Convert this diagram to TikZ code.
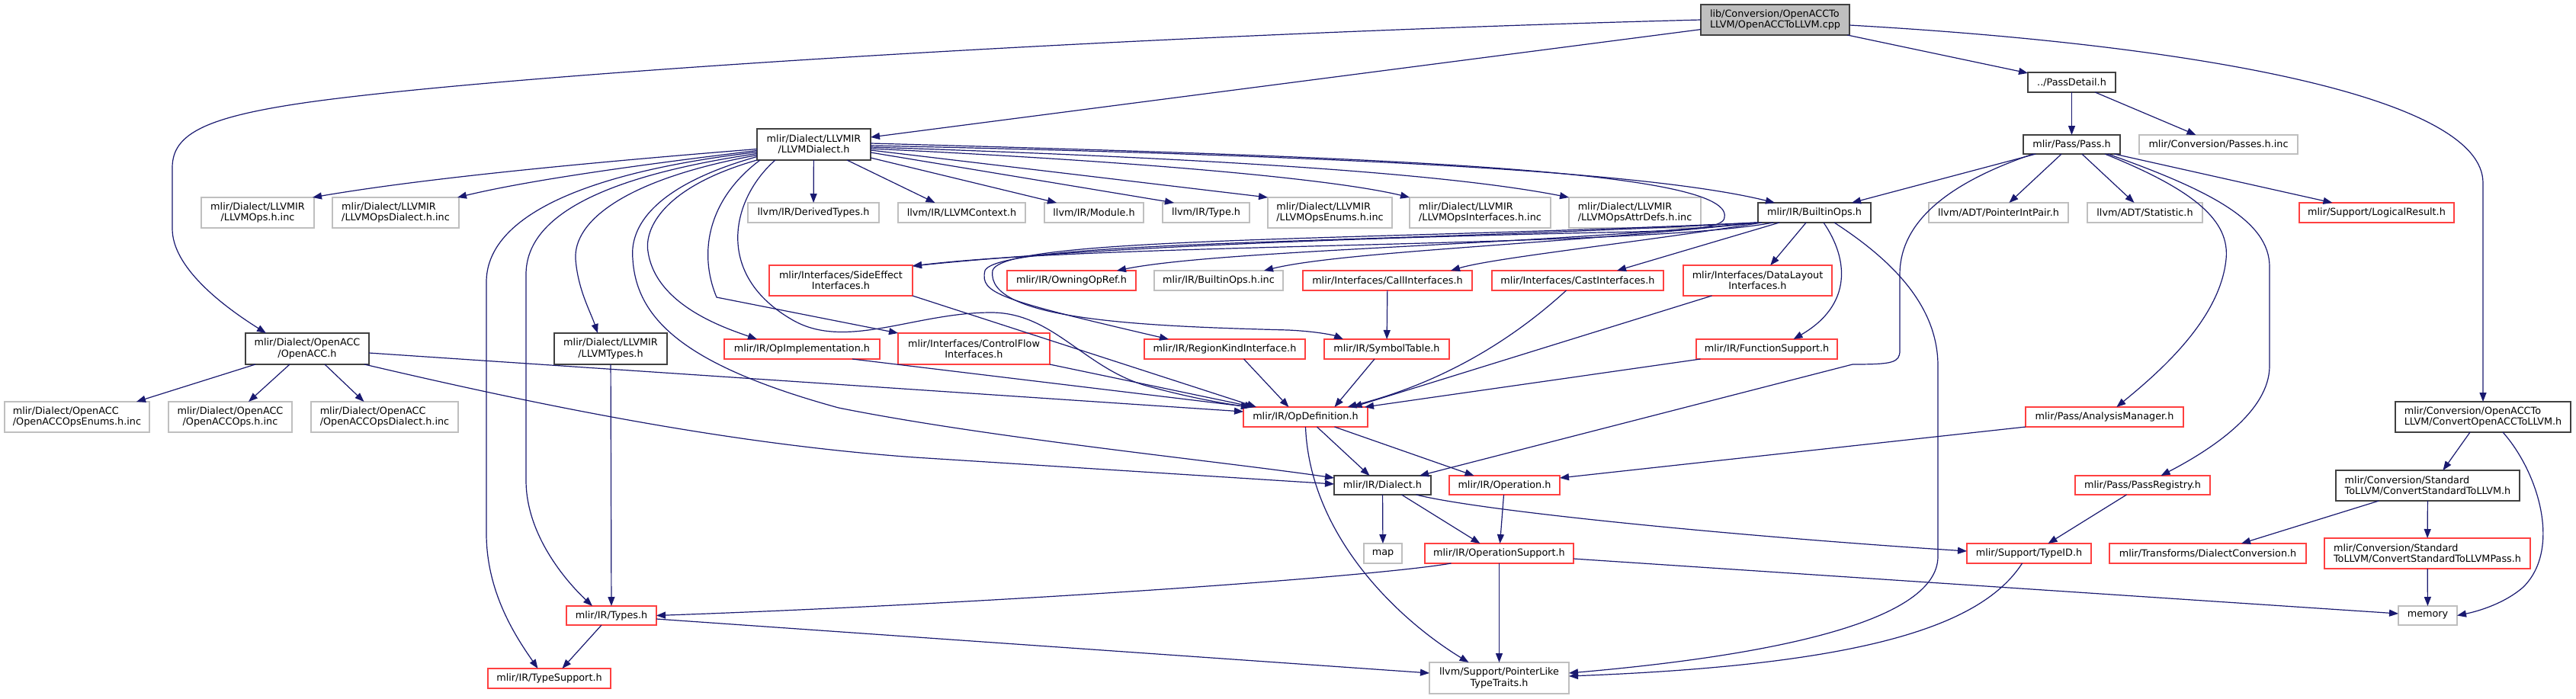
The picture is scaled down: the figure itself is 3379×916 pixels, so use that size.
\documentclass[tikz,border=0pt]{standalone}
\usepackage{fontspec}
\setmainfont{DejaVu Sans}
\usetikzlibrary{arrows.meta}
\definecolor{edgec}{HTML}{191970}
\definecolor{redc}{HTML}{FF4040}
\definecolor{grayc}{HTML}{BFBFBF}
\definecolor{blkc}{HTML}{404040}
\definecolor{rootfill}{HTML}{BFBFBF}
\newcommand\twoline[2]{\setbox0=\hbox{#1}\setbox2=\hbox{#2}\dimen0=\wd0 \ifdim\wd2>\dimen0 \dimen0=\wd2\fi\vbox{\hbox to\dimen0{\box0\hfil}\hbox to\dimen0{\hfil\box2\hfil}}}
\newcommand\nd[6]{\node[#1, minimum width=#4pt, minimum height=#5pt] (#2) at (#3) {#6};}
\begin{document}
\begin{tikzpicture}[x=1pt,y=-1pt,
  nbase/.style={draw, line width=1.4pt, inner sep=0pt, outer sep=0pt, font=\fontsize{12.8}{14.3}\selectfont},
  blk/.style={nbase, draw=blkc, fill=white},
  rootn/.style={nbase, draw=blkc, fill=rootfill},
  redn/.style={nbase, draw=redc, fill=white},
  gry/.style={nbase, draw=grayc, fill=white},
  edge/.style={draw=edgec, line width=1.2pt, -{Triangle[length=12pt,width=9pt]}}]
\fill[white] (0,0) rectangle (3379,916);
\useasboundingbox (0,0) rectangle (3379,916);
% nodes
\nd{rootn}{root}{2328.5,26}{195}{40}{\twoline{lib/Conversion/OpenACCTo}{LLVM/OpenACCToLLVM.cpp}}
\nd{blk}{llvmd}{1067.5,189.5}{149}{41}{\twoline{mlir/Dialect/LLVMIR}{/LLVMDialect.h}}
\nd{blk}{passdetail}{2717.5,108}{115}{26}{../PassDetail.h}
\nd{blk}{passh}{2717.5,189.5}{127}{25}{mlir/Pass/Pass.h}
\nd{gry}{passesinc}{2910,189.5}{208}{25}{mlir/Conversion/Passes.h.inc}
\nd{gry}{llvmopsinc}{338,279}{148}{40}{\twoline{mlir/Dialect/LLVMIR}{/LLVMOps.h.inc}}
\nd{gry}{llvmopsdialect}{519,279}{166}{40}{\twoline{mlir/Dialect/LLVMIR}{/LLVMOpsDialect.h.inc}}
\nd{gry}{derived}{1067,279}{172}{26}{llvm/IR/DerivedTypes.h}
\nd{gry}{context}{1261.5,279}{167}{26}{llvm/IR/LLVMContext.h}
\nd{gry}{module}{1435,279}{130}{26}{llvm/IR/Module.h}
\nd{gry}{type}{1582,279}{114}{26}{llvm/IR/Type.h}
\nd{gry}{enums}{1744.5,279}{163}{40}{\twoline{mlir/Dialect/LLVMIR}{/LLVMOpsEnums.h.inc}}
\nd{gry}{ifaces}{1941.5,279}{185}{40}{\twoline{mlir/Dialect/LLVMIR}{/LLVMOpsInterfaces.h.inc}}
\nd{gry}{attrdefs}{2144.5,279}{173}{40}{\twoline{mlir/Dialect/LLVMIR}{/LLVMOpsAttrDefs.h.inc}}
\nd{blk}{builtinops}{2380,279}{148}{26}{mlir/IR/BuiltinOps.h}
\nd{gry}{pointerint}{2621.5,279}{183}{26}{llvm/ADT/PointerIntPair.h}
\nd{gry}{statistic}{2813.5,279}{151}{26}{llvm/ADT/Statistic.h}
\nd{redn}{logical}{3117.5,279}{203}{26}{mlir/Support/LogicalResult.h}
\nd{redn}{sideeffect}{1103,368}{188}{40}{\twoline{mlir/Interfaces/SideEffect}{Interfaces.h}}
\nd{redn}{owning}{1405.5,368}{169}{26}{mlir/IR/OwningOpRef.h}
\nd{gry}{builtininc}{1598.5,368}{169}{26}{mlir/IR/BuiltinOps.h.inc}
\nd{redn}{call}{1820,368}{222}{26}{mlir/Interfaces/CallInterfaces.h}
\nd{redn}{cast}{2069.5,368}{225}{26}{mlir/Interfaces/CastInterfaces.h}
\nd{redn}{datalayout}{2305.5,368}{195}{40}{\twoline{mlir/Interfaces/DataLayout}{Interfaces.h}}
\nd{blk}{openacc}{403,457.5}{162}{41}{\twoline{mlir/Dialect/OpenACC}{/OpenACC.h}}
\nd{blk}{llvmtypes}{801,457.5}{148}{41}{\twoline{mlir/Dialect/LLVMIR}{/LLVMTypes.h}}
\nd{redn}{opimpl}{1052,458}{204}{26}{mlir/IR/OpImplementation.h}
\nd{redn}{controlflow}{1277.5,457.5}{199}{41}{\twoline{mlir/Interfaces/ControlFlow}{Interfaces.h}}
\nd{redn}{regionkind}{1606.5,458}{211}{26}{mlir/IR/RegionKindInterface.h}
\nd{redn}{symtab}{1819,458}{164}{26}{mlir/IR/SymbolTable.h}
\nd{redn}{funcsupport}{2317.5,458}{185}{26}{mlir/IR/FunctionSupport.h}
\nd{blk}{convacc}{3257,547}{230}{40}{\twoline{mlir/Conversion/OpenACCTo}{LLVM/ConvertOpenACCToLLVM.h}}
\nd{gry}{accenums}{101,547}{190}{40}{\twoline{mlir/Dialect/OpenACC}{/OpenACCOpsEnums.h.inc}}
\nd{gry}{accops}{302,547}{162}{40}{\twoline{mlir/Dialect/OpenACC}{/OpenACCOps.h.inc}}
\nd{gry}{accdialect}{504.5,547}{193}{40}{\twoline{mlir/Dialect/OpenACC}{/OpenACCOpsDialect.h.inc}}
\nd{redn}{opdef}{1712.5,547}{163}{26}{mlir/IR/OpDefinition.h}
\nd{redn}{analysis}{2760.5,547}{207}{26}{mlir/Pass/AnalysisManager.h}
\nd{blk}{dialect}{1813.5,636.5}{127}{25}{mlir/IR/Dialect.h}
\nd{redn}{operation}{1973.5,636.5}{145}{25}{mlir/IR/Operation.h}
\nd{redn}{passreg}{2810.5,636.5}{177}{25}{mlir/Pass/PassRegistry.h}
\nd{blk}{convstd}{3184.5,637}{241}{40}{\twoline{mlir/Conversion/Standard}{ToLLVM/ConvertStandardToLLVM.h}}
\nd{gry}{map}{1814,726}{50}{26}{map}
\nd{redn}{opsupport}{1966.5,726}{195}{26}{mlir/IR/OperationSupport.h}
\nd{redn}{typeid}{2661.5,726}{163}{26}{mlir/Support/TypeID.h}
\nd{redn}{dialectconv}{2896,726}{258}{26}{mlir/Transforms/DialectConversion.h}
\nd{redn}{convstdpass}{3184,726}{270}{40}{\twoline{mlir/Conversion/Standard}{ToLLVM/ConvertStandardToLLVMPass.h}}
\nd{redn}{types}{802,807.5}{118}{25}{mlir/IR/Types.h}
\nd{gry}{memory}{3184.5,807.5}{77}{25}{memory}
\nd{redn}{typesupport}{720.5,890}{161}{26}{mlir/IR/TypeSupport.h}
\nd{gry}{ptrlike}{1966.5,889.5}{183}{41}{\twoline{llvm/Support/PointerLike}{TypeTraits.h}}
% edges from root
\draw[edge] (root.west) .. controls (1500,45) and (700,95) .. (420,132) .. controls (270,152) and (226,175) .. (226,220) -- (226,300) .. controls (226,350) and (290,400) .. ([xshift=27pt]openacc.north west);
\draw[edge] (root) -- (llvmd);
\draw[edge] (root) -- (passdetail);
\draw[edge] ([yshift=-7pt]root.east) .. controls (2900,60) and (3257,130) .. (3257,240) -- (convacc);
% pass detail / pass
\draw[edge] (passdetail) -- (passh);
\draw[edge] (passdetail) -- (passesinc);
\draw[edge] (passh) -- (builtinops);
\draw[edge] (passh) -- (pointerint);
\draw[edge] (passh) -- (statistic);
\draw[edge] (passh) -- (logical);
\draw[edge] ([xshift=13pt]passh.south west) .. controls (2540,245) and (2492,300) .. (2492,360) -- (2492,460) .. controls (2492,476) and (2482,478) .. (2430,478) -- (dialect);
\draw[edge] ([xshift=-20pt]passh.south east) .. controls (2880,250) and (2925,290) .. (2920,340) .. controls (2912,420) and (2830,490) .. (analysis);
\draw[edge] ([xshift=-16pt]passh.south east) .. controls (2900,250) and (2977,290) .. (2977,350) -- (2977,480) .. controls (2977,540) and (2900,590) .. (passreg);
% builtin ops
\draw[edge] ([xshift=20pt]builtinops.south west) .. controls (2150,325) and (1450,318) .. ([yshift=-1pt]sideeffect.north east);
\draw[edge] (builtinops.south west) .. controls (2000,322) and (1600,328) .. ([xshift=-25pt]owning.north east);
\draw[edge] (builtinops.south west) .. controls (2050,320) and (1760,330) .. ([xshift=-25pt]builtininc.north east);
\draw[edge] ([xshift=5pt]builtinops.south west) .. controls (2150,318) and (1960,338) .. ([xshift=-28pt]call.north east);
\draw[edge] ([xshift=28pt]builtinops.south west) -- ([xshift=-61pt]cast.north east);
\draw[edge] (builtinops) -- (datalayout);
\draw[edge] ([xshift=12pt]builtinops.south) .. controls (2425,340) and (2430,400) .. ([xshift=35pt]funcsupport.north);
\draw[edge] ([xshift=26pt]builtinops.south) .. controls (2480,340) and (2542,400) .. (2542,480) -- (2542,730) .. controls (2542,820) and (2300,862) .. ([yshift=6.5pt]ptrlike.east);
\draw[edge] (builtinops.south west) .. controls (1800,320) and (1310,315) .. (1292,355) .. controls (1285,385) and (1310,393) .. ([xshift=32pt]regionkind.north west);
\draw[edge] ([xshift=-3pt]builtinops.south west) .. controls (1800,316) and (1315,310) .. (1302,355) .. controls (1292,420) and (1500,428) .. (1690,433) .. controls (1730,435) and (1750,440) .. ([xshift=25pt]symtab.north west);
% into opdefinition
\draw[edge] (call) -- (symtab);
\draw[edge] ([xshift=-15pt]cast.south) .. controls (1990,440) and (1900,500) .. ([xshift=55pt]opdef.north);
\draw[edge] ([xshift=-60pt]datalayout.south) -- ([xshift=62pt]opdef.north);
\draw[edge] ([xshift=-87pt]funcsupport.south) -- ([xshift=-4pt]opdef.north east);
\draw[edge] ([xshift=25pt]regionkind.south) -- ([xshift=-22pt]opdef.north);
\draw[edge] ([xshift=-16pt]symtab.south) -- ([xshift=38pt]opdef.north);
\draw[edge] (sideeffect.south east) -- ([xshift=17pt]opdef.north west);
\draw[edge] (controlflow.south east) -- ([xshift=14pt]opdef.north west);
\draw[edge] ([xshift=66pt]opimpl.south) -- ([xshift=9pt]opdef.north west);
\draw[edge] ([yshift=-5.5pt]openacc.east) -- ([yshift=7pt]opdef.west);
\draw[edge] ([xshift=-6pt]openacc.south east) .. controls (700,530) and (950,582) .. (1200,600) -- ([yshift=1.5pt]dialect.west);
% llvm dialect
\draw[edge] ([yshift=1.5pt]llvmd.east) .. controls (1750,205) and (2275,220) .. (2262,285) .. controls (2262,300) and (2210,303) .. (2100,305) .. controls (1700,314) and (1400,328) .. ([yshift=-1pt]sideeffect.north east);
\draw[edge] ([yshift=-16pt]llvmd.west) .. controls (870,240) and (825,290) .. (830,340) .. controls (835,420) and (900,480) .. (1100,535) .. controls (1300,575) and (1600,605) .. ([yshift=9.5pt]dialect.west);
\draw[edge] (llvmd.south west) .. controls (870,245) and (845,300) .. (850,330) .. controls (860,400) and (950,430) .. ([xshift=43pt]opimpl.north west);
\draw[edge] ([xshift=4pt]llvmd.south west) .. controls (930,260) and (915,330) .. (940,390) -- (controlflow.north west);
\draw[edge] ([xshift=24pt]llvmd.south west) .. controls (960,260) and (935,360) .. (1040,420) .. controls (1110,460) and (1200,410) .. (1300,410) .. controls (1380,410) and (1420,480) .. (1500,505) .. controls (1560,522) and (1610,530) .. ([xshift=9pt]opdef.north west);
\draw[edge] ([yshift=-12pt]llvmd.west) .. controls (800,230) and (690,280) .. (690,360) -- (690,630) .. controls (690,700) and (740,760) .. ([xshift=-25pt]types.north);
\draw[edge] ([yshift=-10pt]llvmd.west) .. controls (750,228) and (638,290) .. (638,370) -- (638,700) .. controls (638,780) and (680,840) .. ([xshift=-15pt]typesupport.north);
\draw[edge] ([yshift=-14pt]llvmd.west) .. controls (820,235) and (752,290) .. (755,340) .. controls (758,380) and (775,410) .. ([xshift=-17pt]llvmtypes.north);
\draw[edge] ([yshift=-6pt]llvmd.west) .. controls (750,215) and (550,235) .. ([xshift=-2pt]llvmopsinc.north east);
\draw[edge] ([yshift=-8pt]llvmd.west) .. controls (850,215) and (700,235) .. ([xshift=-2pt]llvmopsdialect.north east);
\draw[edge] (llvmd) -- (derived);
\draw[edge] ([xshift=-31pt]llvmd.south east) -- ([xshift=-35pt]context.north);
\draw[edge] ([yshift=-17.5pt]llvmd.east) -- ([xshift=-49pt]module.north);
\draw[edge] ([yshift=-10.5pt]llvmd.east) -- ([xshift=-42pt]type.north);
\draw[edge] ([yshift=-7.5pt]llvmd.east) -- (enums.north west);
\draw[edge] ([yshift=-5.5pt]llvmd.east) .. controls (1500,212) and (1750,235) .. (ifaces.north west);
\draw[edge] ([yshift=-3.5pt]llvmd.east) .. controls (1600,208) and (1900,228) .. (attrdefs.north west);
\draw[edge] ([yshift=-1.5pt]llvmd.east) .. controls (1700,203) and (2150,222) .. ([xshift=22pt]builtinops.north west);
% openacc
\draw[edge] ([xshift=-68pt]openacc.south) -- ([xshift=78pt]accenums.north);
\draw[edge] ([xshift=-23pt]openacc.south) -- ([xshift=24pt]accops.north);
\draw[edge] ([xshift=23pt]openacc.south) -- ([xshift=-27pt]accdialect.north);
% lower part
\draw[edge] (llvmtypes) -- (types);
\draw[edge] ([xshift=-13pt]types.south) -- ([xshift=17pt]typesupport.north);
\draw[edge] ([yshift=-4.5pt]types.east) -- ([yshift=6.5pt]ptrlike.west);
\draw[edge] ([xshift=-63pt]opsupport.south) .. controls (1800,757) and (1300,792) .. (types.east);
\draw[edge] (opsupport) -- (ptrlike);
\draw[edge] ([yshift=-7pt]opsupport.east) -- ([yshift=2.5pt]memory.west);
\draw[edge] ([xshift=15pt]opdef.south) -- ([xshift=-17pt]dialect.north);
\draw[edge] ([xshift=38pt]opdef.south) -- ([xshift=-40pt]operation.north);
\draw[edge] (opdef.south) .. controls (1718,700) and (1830,810) .. ([xshift=-40pt]ptrlike.north);
\draw[edge] (operation) -- (opsupport);
\draw[edge] (dialect) -- (map);
\draw[edge] ([xshift=25pt]dialect.south) -- ([xshift=-25pt]opsupport.north);
\draw[edge] ([xshift=44pt]dialect.south) .. controls (1950,672) and (2300,705) .. ([yshift=3pt]typeid.west);
\draw[edge] (analysis.south west) -- ([yshift=9.5pt]operation.east);
\draw[edge] ([xshift=-21pt]passreg.south) -- ([xshift=25pt]typeid.north);
\draw[edge] ([xshift=-9pt]typeid.south) .. controls (2600,820) and (2450,872) .. ([yshift=2.5pt]ptrlike.east);
\draw[edge] ([xshift=-17pt]convacc.south) -- ([xshift=20pt]convstd.north);
\draw[edge] ([xshift=26pt]convacc.south) .. controls (3330,620) and (3360,720) .. (3310,770) .. controls (3285,792) and (3250,802) .. (memory.east);
\draw[edge] ([xshift=-64pt]convstd.south) -- ([xshift=44pt]dialectconv.north);
\draw[edge] (convstd) -- (convstdpass);
\draw[edge] (convstdpass) -- (memory);
\end{tikzpicture}
\end{document}
